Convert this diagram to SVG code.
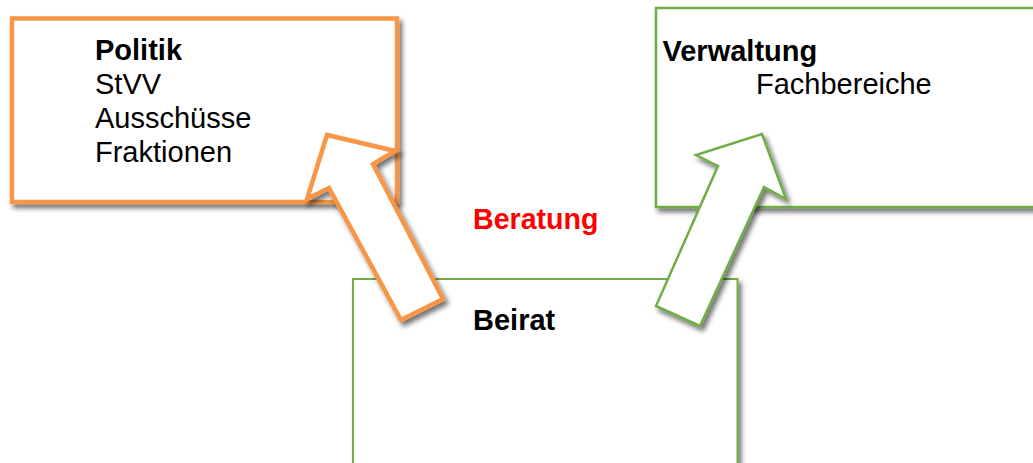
<svg xmlns="http://www.w3.org/2000/svg" width="1033" height="463" viewBox="0 0 1033 463">
  <defs>
    <filter id="shadow" x="-10%" y="-10%" width="130%" height="130%">
      <feDropShadow dx="3" dy="4" stdDeviation="2.5" flood-color="#000" flood-opacity="0.55"/>
    </filter>
    <style>
      .txt { font-family: "Liberation Sans", Arial, sans-serif; font-size: 29px; fill: #000; }
      .bold { font-weight: bold; }
      .orange { fill: #fff; stroke: #F79646; stroke-width: 4.5; stroke-linejoin: miter; }
      .green { fill: #fff; stroke: #70AD47; stroke-width: 2.5; stroke-linejoin: miter; }
      .beirat { fill: #fff; stroke: #70AD47; stroke-width: 2; }
    </style>
  </defs>
  <rect width="1033" height="463" fill="#fff"/>

  <!-- Politik -->
  <g id="politik">
    <rect class="orange" x="12" y="18.5" width="385" height="183.5" filter="url(#shadow)"/>
    <text class="txt bold" x="95" y="60">Politik</text>
    <text class="txt" x="95" y="93.5">StVV</text>
    <text class="txt" x="95" y="128">Ausschüsse</text>
    <text class="txt" x="95" y="162">Fraktionen</text>
  </g>

  <!-- Verwaltung -->
  <g id="verwaltung">
    <rect class="green" x="656" y="8" width="400" height="199" filter="url(#shadow)"/>
    <text class="txt bold" x="662.5" y="61">Verwaltung</text>
    <text class="txt" x="756" y="93.5">Fachbereiche</text>
  </g>

  <!-- Beirat -->
  <g id="beirat">
    <rect class="beirat" x="353" y="279" width="384.5" height="200" filter="url(#shadow)"/>
    <text class="txt bold" x="473" y="330">Beirat</text>
  </g>

  <!-- Beratung label -->
  <g id="beratung">
    <text class="txt bold" x="473" y="228.5" style="fill:#FF0000; font-size:28.6px">Beratung</text>
  </g>

  <!-- block arrows from Beirat -->
  <g id="connectors">
    <polygon class="orange" filter="url(#shadow)"
      points="327,135 395,151 373,164 443,299 401,320 329,188 307,199"/>
    <polygon class="green" filter="url(#shadow)"
      points="762,134 786,199 764,187 700,326 656,306 718,166 696,155"/>
  </g>
</svg>
